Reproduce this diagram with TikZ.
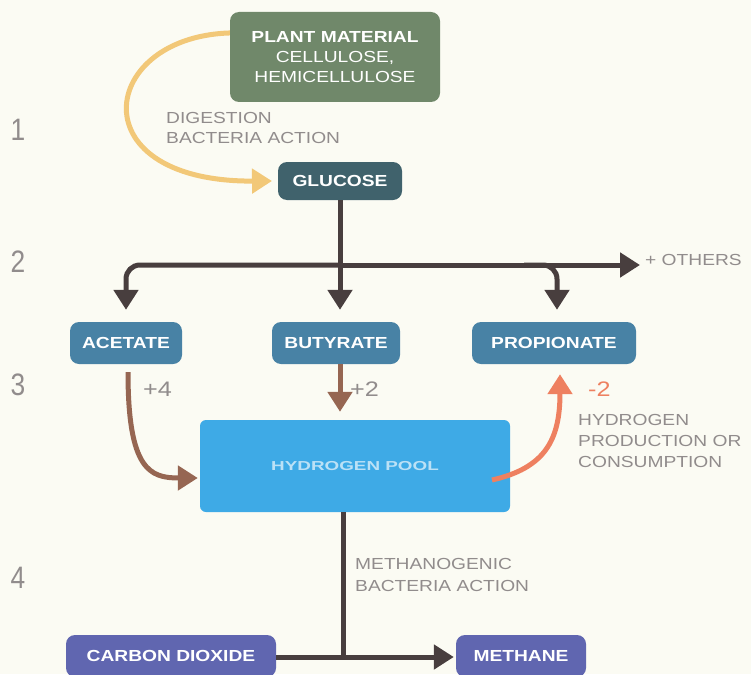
\documentclass[tikz,border=0pt]{standalone}
\usepackage{fontspec}
\setmainfont[FakeStretch=1.2]{Liberation Sans}
\newfontfamily\poolfont[FakeStretch=1.45]{Liberation Sans}
\newfontfamily\numfont[FakeStretch=0.85]{Liberation Sans}
\usetikzlibrary{arrows.meta}
\definecolor{bg}{RGB}{251,251,243}
\definecolor{plantc}{RGB}{112,136,106}
\definecolor{gluc}{RGB}{64,98,108}
\definecolor{acid}{RGB}{72,130,165}
\definecolor{pool}{RGB}{62,170,230}
\definecolor{gasc}{RGB}{96,102,176}
\definecolor{dark}{RGB}{72,62,62}
\definecolor{orng}{RGB}{242,200,120}
\definecolor{brwn}{RGB}{150,102,82}
\definecolor{salm}{RGB}{238,128,96}
\definecolor{txtg}{RGB}{145,140,140}
\tikzset{
  box/.style={rounded corners=9pt, text=white, font=\bfseries\fontsize{16}{20}\selectfont, align=center, inner sep=0pt},
  lbl/.style={text=txtg, font=\fontsize{16}{20}\selectfont, align=left, anchor=north west, inner sep=0pt},
  num/.style={text=txtg, font=\numfont\fontsize{31}{33}\selectfont, inner sep=0pt},
  tip/.style={-{Triangle[width=24pt,length=20pt]}},
  flow/.style={line width=5pt, draw=dark, tip},
  flowln/.style={line width=5pt, draw=dark},
}
\begin{document}
\begin{tikzpicture}[x=1pt,y=-1pt]
\fill[bg] (0,0) rectangle (751,674);
\useasboundingbox (0,0) rectangle (751,674);

% orange digestion arrow (behind boxes)
\coordinate (oa) at (242,33);
\draw[line width=5pt, draw=orng, tip] (oa) .. controls (100,28) and (72,182) .. (272,181);

% nodes
\node[box, fill=plantc, minimum width=210pt, minimum height=90pt, font=\fontsize{16}{20}\selectfont] (plant) at (335,57) {\textbf{PLANT MATERIAL}\\CELLULOSE,\\HEMICELLULOSE};
\node[box, fill=gluc, minimum width=124pt, minimum height=38pt] (glucose) at (340,181) {GLUCOSE};
\node[box, fill=acid, minimum width=112pt, minimum height=42pt] (acetate) at (126,343) {ACETATE};
\node[box, fill=acid, minimum width=128pt, minimum height=42pt] (butyrate) at (336,343) {BUTYRATE};
\node[box, fill=acid, minimum width=164pt, minimum height=42pt] (propionate) at (554,343) {PROPIONATE};
\node[rounded corners=6pt, fill=pool, minimum width=310pt, minimum height=92pt, text=white!65!pool, font=\poolfont\bfseries\fontsize{13}{15}\selectfont] (pool) at (355,466) {HYDROGEN POOL};
\node[box, fill=gasc, minimum width=210pt, minimum height=42pt] (co2) at (171,656) {CARBON DIOXIDE};
\node[box, fill=gasc, minimum width=130pt, minimum height=42pt] (methane) at (521,656) {METHANE};

% labels
\node[num] (n1) at (18,130) {1};
\node[num] (n2) at (18,262) {2};
\node[num] (n3) at (18,385) {3};
\node[num] (n4) at (18,578) {4};
\node[lbl] (dig) at (166,112) {DIGESTION\\BACTERIA ACTION};
\node[lbl, anchor=west] (others) at (645,260) {+ OTHERS};
\node[lbl, anchor=west, font=\fontsize{21}{24}\selectfont] (p4) at (143,389) {+4};
\node[lbl, anchor=west, font=\fontsize{21}{24}\selectfont] (p2) at (350,389) {+2};
\node[lbl, anchor=west, text=salm, font=\fontsize{21}{24}\selectfont] (m2) at (588,389) {-2};
\node[lbl, font=\fontsize{16}{21}\selectfont] (hpc) at (578,414) {HYDROGEN\\PRODUCTION OR\\CONSUMPTION};
\node[lbl, font=\fontsize{16}{22}\selectfont] (meth) at (355,558) {METHANOGENIC\\BACTERIA ACTION};

% branching from glucose
\coordinate (split) at (340,265);
\coordinate (oend) at (640,265);
\draw[flowln] (glucose.south) -- (split);
\draw[flow] (split) -- (oend);
\draw[flow] (split) -- ([yshift=12pt]butyrate.north -| split);
\draw[flow, rounded corners=14pt] (split) -| ([yshift=12pt]acetate.north);
\draw[flow, rounded corners=14pt] ([xshift=-30pt]split -| propionate.north) -| ([shift={(3pt,12pt)}]propionate.north);

% hydrogen production / consumption
\draw[line width=5pt, draw=brwn, tip] ([shift={(2pt,-8pt)}]acetate.south) .. controls (128,470) and (150,478) .. ([xshift=-2pt]pool.west |- 0,478);
\draw[line width=5pt, draw=brwn, tip] (butyrate.south -| 340,0) -- ([yshift=8pt]pool.north -| 340,0);
\draw[line width=5pt, draw=salm, tip] (492,480) .. controls (545,468) and (560,440) .. ([yshift=-10pt]propionate.south -| 560,0);

% methane formation
\coordinate (join) at (343,657);
\draw[flowln] (pool.south -| join) -- (join);
\draw[flow] (co2.east |- join) -- ([xshift=-2pt]methane.west |- join);
\end{tikzpicture}
\end{document}
